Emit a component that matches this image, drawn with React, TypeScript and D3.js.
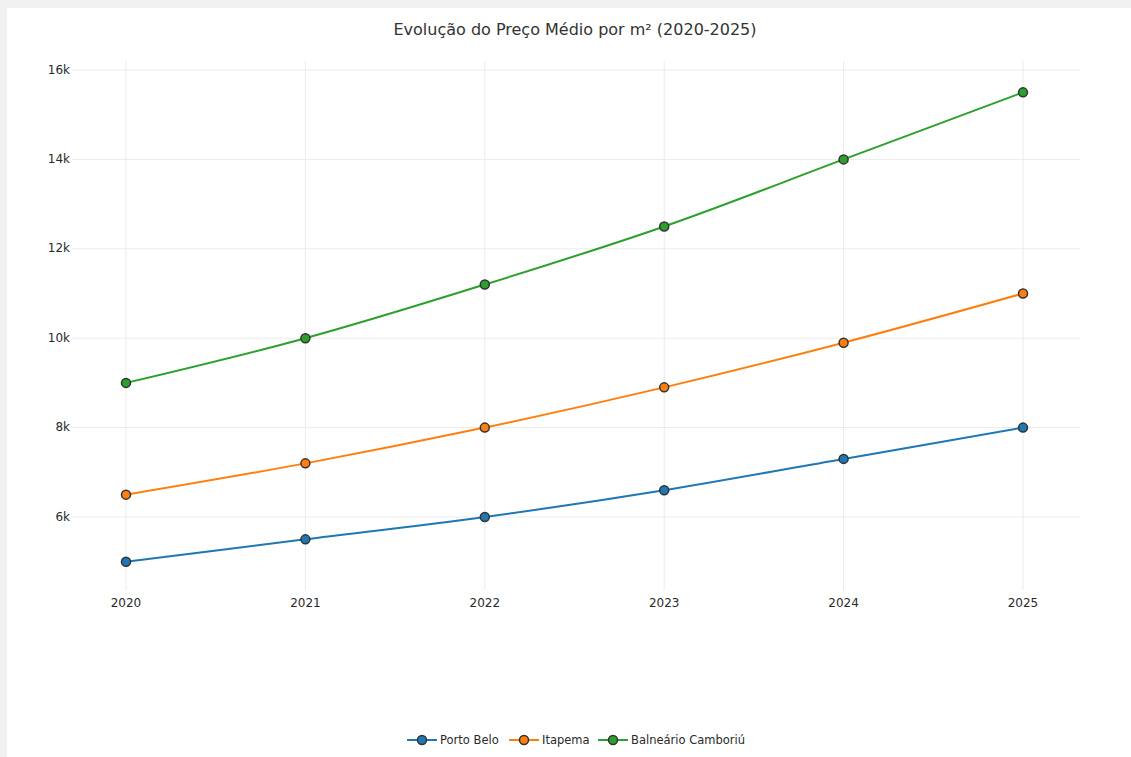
import React from "react";
import * as d3 from "d3";

const years = [2020, 2021, 2022, 2023, 2024, 2025];
const portoBelo = [5000, 5500, 6000, 6600, 7300, 8000];
const itapema = [6500, 7200, 8000, 8900, 9900, 11000];
const balneario = [9000, 10000, 11200, 12500, 14000, 15500];
const seriesNames = ["Porto Belo", "Itapema", "Balneário Camboriú"];
const seriesColors = ["#1f77b4", "#ff7f0e", "#2ca02c"];
const yTicks = [6000, 8000, 10000, 12000, 14000, 16000];
const title = "Evolução do Preço Médio por m² (2020-2025)";

const W = 1131;
const H = 757;
const FONT = "Verdana, 'DejaVu Sans', sans-serif";

export default function App() {
  const plot = { left: 72, right: 1080, top: 61, bottom: 590 };
  const x = d3.scaleLinear().domain([2020, 2025]).range([126, 1023]);
  const y = d3.scaleLinear().domain([6000, 16000]).range([517, 70]);
  const allSeries = [portoBelo, itapema, balneario];
  const line = d3
    .line<number>()
    .x((_, i) => x(years[i]))
    .y((d) => y(d))
    .curve(d3.curveCatmullRom.alpha(0.5));

  const legendItems = [
    { x: 407, w: 30 },
    { x: 509, w: 30 },
    { x: 598, w: 30 },
  ];

  return (
    <div style={{ position: "absolute", left: 0, top: 0, width: W, height: H, background: "#f1f1f1" }}>
      <svg width={W} height={H} style={{ display: "block" }}>
        <rect x={7} y={8} width={W - 7} height={H - 8} fill="#ffffff" />
        <text
          x={575}
          y={30}
          textAnchor="middle"
          dominantBaseline="middle"
          fontFamily={FONT}
          fontSize={16}
          fill="#333"
        >
          {title}
        </text>
        {/* grid */}
        {years.map((yr) => (
          <line
            key={"vx" + yr}
            x1={x(yr)}
            x2={x(yr)}
            y1={plot.top}
            y2={plot.bottom}
            stroke="#ebebeb"
            strokeWidth={1}
          />
        ))}
        {yTicks.map((t) => (
          <line
            key={"hy" + t}
            x1={plot.left}
            x2={plot.right}
            y1={y(t)}
            y2={y(t)}
            stroke="#ebebeb"
            strokeWidth={1}
          />
        ))}
        {/* axis labels */}
        {yTicks.map((t) => (
          <text
            key={"ly" + t}
            x={70}
            y={y(t)}
            textAnchor="end"
            dominantBaseline="middle"
            fontFamily={FONT}
            fontSize={12}
            fill="#2a2a2a"
          >
            {d3.format("~s")(t)}
          </text>
        ))}
        {years.map((yr) => (
          <text
            key={"lx" + yr}
            x={x(yr)}
            y={603}
            textAnchor="middle"
            dominantBaseline="middle"
            fontFamily={FONT}
            fontSize={12}
            fill="#2a2a2a"
          >
            {yr}
          </text>
        ))}
        {/* series */}
        {allSeries.map((s, si) => (
          <g key={"s" + si}>
            <path d={line(s) || ""} fill="none" stroke={seriesColors[si]} strokeWidth={2} />
            {s.map((v, i) => (
              <circle
                key={i}
                cx={x(years[i])}
                cy={y(v)}
                r={4.5}
                fill={seriesColors[si]}
                stroke="#333"
                strokeWidth={1.5}
              />
            ))}
          </g>
        ))}
        {/* legend */}
        {legendItems.map((it, i) => (
          <g key={"lg" + i}>
            <line
              x1={it.x}
              x2={it.x + it.w}
              y1={740}
              y2={740}
              stroke={seriesColors[i]}
              strokeWidth={2}
            />
            <circle
              cx={it.x + it.w / 2}
              cy={740}
              r={4.5}
              fill={seriesColors[i]}
              stroke="#333"
              strokeWidth={1.5}
            />
            <text
              x={it.x + it.w + 3}
              y={740}
              dominantBaseline="middle"
              fontFamily={FONT}
              fontSize={11.5}
              fill="#2a2a2a"
            >
              {seriesNames[i]}
            </text>
          </g>
        ))}
      </svg>
    </div>
  );
}
